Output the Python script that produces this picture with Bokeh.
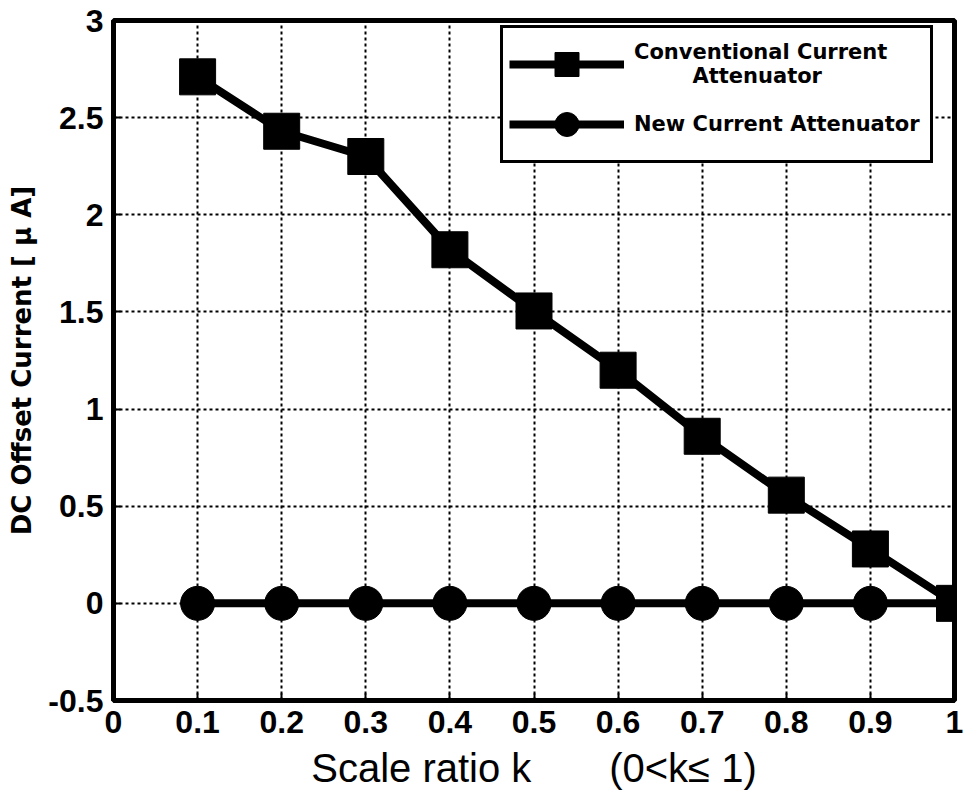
from bokeh.plotting import figure
from bokeh.models import Legend, LegendItem, FixedTicker, Range1d
from bokeh.embed import file_html
from bokeh.resources import INLINE

k_values = [0.1, 0.2, 0.3, 0.4, 0.5, 0.6, 0.7, 0.8, 0.9, 1.0]
conventional = [2.71, 2.43, 2.30, 1.82, 1.505, 1.20, 0.86, 0.557, 0.28, 0.0]
new_att = [0.0, 0.0, 0.0, 0.0, 0.0, 0.0, 0.0, 0.0, 0.0, 0.0]
x_ticks = [0, 0.1, 0.2, 0.3, 0.4, 0.5, 0.6, 0.7, 0.8, 0.9, 1]
y_ticks = [-0.5, 0, 0.5, 1, 1.5, 2, 2.5, 3]

FONT = "Liberation Sans"
WIDE = "DejaVu Sans"

p = figure(width=966, height=806, output_backend="svg", toolbar_location=None,
           x_range=Range1d(0, 1), y_range=Range1d(-0.5, 3),
           min_border_left=113, min_border_top=20, min_border_right=12, min_border_bottom=106)

p.outline_line_color = "black"
p.outline_line_width = 5
p.outline_line_alpha = 1

for ax in (p.xaxis[0], p.yaxis[0]):
    ax.axis_line_width = 5
    ax.axis_line_color = "black"
    ax.major_tick_in = 7
    ax.major_tick_out = 0
    ax.minor_tick_line_color = None
    ax.major_tick_line_width = 2
    ax.major_label_text_font = FONT
    ax.major_label_text_font_style = "bold"
    ax.major_label_text_font_size = "32px"
    ax.major_label_text_color = "black"

p.xaxis.ticker = FixedTicker(ticks=x_ticks)
p.yaxis.ticker = FixedTicker(ticks=y_ticks)
p.xaxis.major_label_overrides = {0: "0", 1: "1"}
p.yaxis.major_label_overrides = {3: "3", 2: "2", 1: "1", 0: "0", -0.5: "-0.5"}
p.xaxis.major_label_standoff = 10
p.yaxis.major_label_standoff = 10

NBSP = "\u00a0"
p.xaxis.axis_label = "Scale ratio k" + NBSP * 7 + "(0<k\u2264 1)"
p.xaxis.axis_label_text_font = FONT
p.xaxis.axis_label_text_font_style = "normal"
p.xaxis.axis_label_text_font_size = "40px"
p.xaxis.axis_label_text_color = "black"
p.xaxis.axis_label_standoff = 10

p.yaxis.axis_label = "DC Offset Current [ \u03bc A]"
p.yaxis.axis_label_text_font = WIDE
p.yaxis.axis_label_text_font_style = "bold"
p.yaxis.axis_label_text_font_size = "26px"
p.yaxis.axis_label_text_color = "black"
p.yaxis.axis_label_standoff = 8

p.xgrid.grid_line_color = "black"
p.ygrid.grid_line_color = "black"
p.xgrid.grid_line_dash = "3 3"
p.ygrid.grid_line_dash = "3 3"
p.xgrid.grid_line_width = 2
p.ygrid.grid_line_width = 2
p.xgrid.ticker = FixedTicker(ticks=x_ticks)
p.ygrid.ticker = FixedTicker(ticks=y_ticks)

l1 = p.line(k_values, conventional, line_color="black", line_width=8)
s1 = p.scatter(k_values, conventional, marker="square", size=36, fill_color="black", line_color="black")
l2 = p.line(k_values, new_att, line_color="black", line_width=8)
s2 = p.scatter(k_values, new_att, marker="circle", size=34, fill_color="black", line_color="black")

legend = Legend(items=[
    LegendItem(label="Conventional Current\n        Attenuator", renderers=[l1, s1]),
    LegendItem(label="New Current Attenuator", renderers=[l2, s2]),
], location=(387, 537))
legend.label_text_font = WIDE
legend.label_text_font_style = "bold"
legend.label_text_font_size = "21px"
legend.label_text_line_height = 1.4
legend.label_text_color = "black"
legend.label_width = 290
legend.label_standoff = 10
legend.glyph_width = 115
legend.glyph_height = 60
legend.border_line_color = "black"
legend.border_line_alpha = 1
legend.border_line_width = 3
legend.background_fill_alpha = 1
legend.spacing = 0
legend.padding = 6
legend.margin = 0
p.add_layout(legend, "center")

open("out.html", "w").write(file_html(p, INLINE))
